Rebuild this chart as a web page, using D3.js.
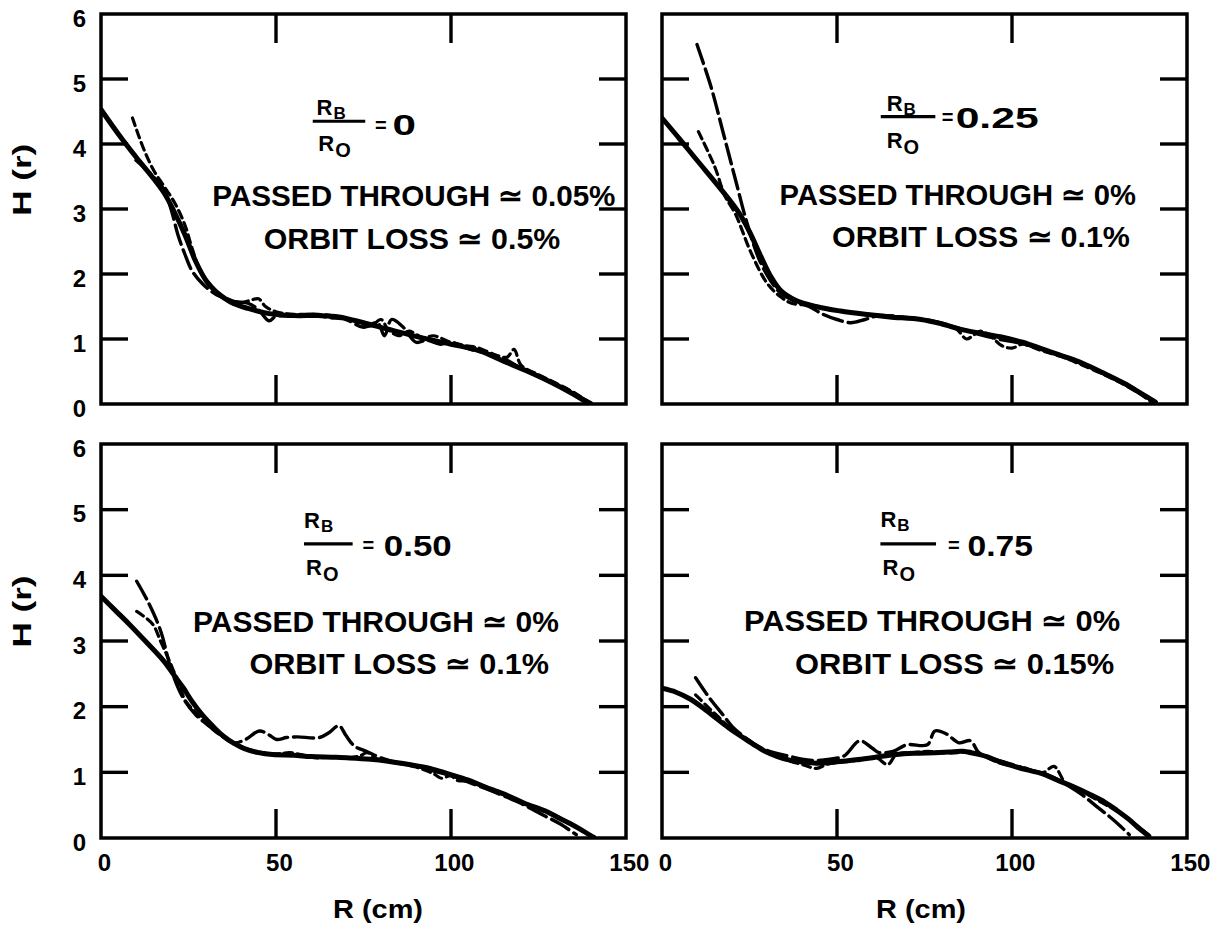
<!DOCTYPE html>
<html>
<head>
<meta charset="utf-8">
<script src="https://cdn.jsdelivr.net/npm/d3@7"></script>
<style>
  html, body { margin: 0; padding: 0; background: #fff; }
  svg { display: block; }
  text { font-family: "Liberation Sans", Arial, sans-serif; font-weight: bold; fill: #000; }
</style>
</head>
<body>
<svg id="chart" width="1222" height="933"></svg>
<script>
// ---------------- DATA ----------------
const yTicks = [0, 1, 2, 3, 4, 5, 6];
const xTicks = [0, 50, 100, 150];
const xLabel = "R (cm)";
const yLabel = "H (r)";

const ratioValues = ["0", "0.25", "0.50", "0.75"];
const passedThrough = ["PASSED THROUGH \u2243 0.05%", "PASSED THROUGH \u2243 0%", "PASSED THROUGH \u2243 0%", "PASSED THROUGH \u2243 0%"];
const orbitLoss = ["ORBIT LOSS \u2243 0.5%", "ORBIT LOSS \u2243 0.1%", "ORBIT LOSS \u2243 0.1%", "ORBIT LOSS \u2243 0.15%"];

// Panel 1: RB/RO = 0
const solid0 = [[0,4.53],[5,4.15],[10,3.8],[15,3.47],[18,3.25],[21,2.95],[24,2.6],[27,2.2],[30,1.9],[33,1.72],[37,1.57],[42,1.47],[48,1.39],[55,1.36],[62,1.36],[68,1.34],[75,1.25],[82,1.15],[90,1.04],[100,0.92],[108,0.82],[115,0.66],[122,0.5],[128,0.35],[134,0.18],[139,0.02]];
const shortDash0 = [[9,4.4],[12,3.95],[15,3.6],[18,3.35],[21,3.1],[24,2.75],[26,2.4],[28,2.1],[31,1.85],[35,1.65],[40,1.56],[43,1.6],[45,1.62],[47,1.5],[50,1.42],[55,1.38],[62,1.38],[68,1.34],[72,1.28],[77,1.2],[80,1.3],[82,1.15],[85,1.05],[88,1.12],[92,1.02],[95,1.05],[100,0.95],[104,0.9],[108,0.86],[112,0.77],[116,0.72],[118,0.84],[120,0.6],[125,0.45],[130,0.32],[136,0.15],[140,0.0]];
const longDash0 = [[10,3.75],[14,3.55],[18,3.3],[20,3.0],[22,2.6],[24,2.3],[26,2.05],[29,1.85],[33,1.68],[38,1.58],[42,1.55],[45,1.45],[48,1.28],[50,1.35],[55,1.35],[60,1.38],[65,1.33],[70,1.3],[75,1.18],[79,1.25],[81,1.05],[83,1.3],[86,1.2],[90,0.95],[93,0.98],[97,0.92],[100,0.95],[105,0.85],[110,0.78],[115,0.7],[120,0.55],[125,0.42],[130,0.3],[135,0.16],[140,0.02]];

// Panel 2: RB/RO = 0.25
const solid25 = [[0,4.4],[5,4.08],[10,3.75],[16,3.36],[22,2.94],[25,2.65],[28,2.3],[31,1.97],[34,1.74],[38,1.6],[44,1.5],[51,1.43],[58,1.38],[65,1.34],[74,1.3],[80,1.23],[86,1.14],[92,1.08],[97,1.03],[103,0.95],[109,0.84],[115,0.73],[120,0.63],[126,0.48],[132,0.32],[137,0.16],[141,0.03]];
const longDash25 = [[10,5.53],[14,4.88],[17.5,4.17],[21,3.45],[24.3,2.78],[27.8,2.22],[31,1.9],[34,1.7],[38,1.58],[42,1.5],[46,1.38],[50,1.3],[54,1.25],[58,1.3],[62,1.36],[70,1.33],[78,1.27],[84,1.18],[90,1.08],[96,1.0],[102,0.94],[108,0.85],[114,0.74],[120,0.62],[126,0.47],[132,0.31],[137,0.15],[141,0.02]];
const shortDash25 = [[10.4,4.19],[15,3.66],[18,3.2],[21,2.92],[25.5,2.32],[30,1.86],[33.6,1.66],[37,1.55],[42,1.52],[47,1.46],[52,1.42],[58,1.38],[66,1.35],[74,1.3],[80,1.24],[84,1.16],[87,1.0],[89,1.06],[91,1.12],[94,1.04],[97,0.9],[100,0.86],[103,0.92],[108,0.83],[114,0.73],[120,0.6],[126,0.46],[132,0.3],[137,0.14],[140,0.02]];

// Panel 3: RB/RO = 0.50
const solid50 = [[0,3.68],[4,3.47],[8,3.26],[13,2.98],[18,2.69],[21,2.47],[23.6,2.28],[26,2.08],[29,1.87],[32,1.7],[35,1.55],[38,1.44],[41,1.36],[45,1.3],[49,1.27],[55,1.26],[60,1.24],[66,1.23],[71,1.22],[77,1.2],[82,1.17],[88,1.12],[94,1.06],[99,0.98],[105,0.88],[110,0.77],[116,0.65],[121,0.53],[127,0.41],[131,0.3],[134,0.22],[137,0.13],[140,0.03]];
const longDash50 = [[10.2,3.91],[13.6,3.58],[17,3.16],[20.2,2.54],[23.6,2.12],[27,1.88],[31,1.7],[35,1.54],[38,1.45],[41.3,1.5],[45.2,1.63],[48,1.57],[50.2,1.5],[53,1.53],[56,1.54],[62.4,1.53],[65,1.6],[68,1.71],[70,1.56],[72.4,1.4],[75.8,1.32],[80,1.22],[85,1.14],[90,1.1],[95,1.02],[100,0.95],[105,0.85],[110,0.75],[116,0.62],[121,0.5],[127,0.33],[131,0.22],[135.8,0.05]];
const shortDash50 = [[10.2,3.45],[14.7,3.26],[17,3.0],[19.1,2.75],[22.4,2.33],[24,2.1],[26.9,1.92],[30,1.75],[34,1.57],[38,1.45],[42,1.35],[46,1.3],[50,1.28],[54,1.3],[58,1.26],[62,1.22],[66,1.24],[70,1.22],[74,1.25],[76,1.3],[79,1.2],[84,1.15],[90,1.08],[95,0.98],[97.3,0.91],[100,0.95],[101.6,0.88],[105,0.86],[110,0.77],[116,0.64],[121,0.52],[126,0.43],[131,0.31],[136,0.16],[141,0.02]];

// Panel 4: RB/RO = 0.75
const solid75 = [[0,2.28],[4,2.22],[7.9,2.12],[12,1.97],[15.8,1.81],[19,1.68],[22.6,1.55],[26,1.43],[29.4,1.32],[33,1.24],[36.2,1.19],[40,1.16],[44.1,1.14],[50,1.16],[55.4,1.19],[61,1.23],[66.7,1.27],[72,1.29],[78,1.3],[82,1.31],[86,1.32],[89,1.29],[92.8,1.24],[96,1.17],[100.7,1.09],[104,1.04],[108.6,0.98],[113,0.88],[117.6,0.78],[122,0.67],[126.7,0.54],[130,0.42],[133.5,0.28],[136,0.16],[139.1,0.03]];
const longDash75 = [[9.6,2.44],[12,2.25],[14,2.1],[17.5,1.87],[20,1.7],[24,1.52],[28,1.38],[32,1.3],[36,1.25],[40,1.2],[44,1.18],[48,1.2],[52,1.25],[56.5,1.48],[60,1.37],[62,1.3],[66,1.32],[70,1.42],[75.8,1.42],[78,1.63],[81.4,1.58],[84.8,1.45],[88.2,1.48],[90.5,1.3],[95,1.2],[100,1.12],[104,1.05],[108,1.0],[112,0.92],[116,0.8],[120,0.66],[124.4,0.47],[128,0.32],[131,0.18],[133.5,0.05]];
const shortDash75 = [[9.6,2.18],[13,2.0],[16,1.85],[20,1.65],[24,1.5],[28,1.36],[32,1.28],[36,1.18],[40,1.12],[44.1,1.06],[47,1.12],[50,1.15],[54,1.17],[58,1.2],[61,1.23],[64.5,1.12],[67,1.27],[72,1.3],[76,1.32],[80,1.3],[85,1.3],[88,1.32],[92,1.25],[96,1.15],[100,1.1],[103,1.08],[106,1.02],[109,1.0],[112,1.09],[115.4,0.83],[119,0.74],[123,0.62],[127,0.5],[131,0.38],[135,0.22],[139.5,0.02]];

const solidSeries = [solid0, solid25, solid50, solid75];
const longDashSeries = [longDash0, longDash25, longDash50, longDash75];
const shortDashSeries = [shortDash0, shortDash25, shortDash50, shortDash75];

// ---------------- LAYOUT ----------------
const panels = [
  {left: 101, right: 626, top: 14, bottom: 404, showY: true,  showX: false,
   frac: {rx: 61.6, ry: 4.57, lx0: 60.5, lx1: 75.5, ly: 4.35, ox: 62.1, oy: 4.02, ex: 78.3, vx: 83.3, vEnd: 90, vy: 4.30},
   pass: {x0: 31.8, x1: 147, y: 3.21}, orbit: {x0: 46.5, x1: 131.2, y: 2.54}},
  {left: 662, right: 1187, top: 14, bottom: 404, showY: false, showX: false,
   frac: {rx: 64.2, ry: 4.63, lx0: 62.5, lx1: 78.1, ly: 4.42, ox: 64.2, oy: 4.06, ex: 79.9, vx: 83.9, vEnd: 107.6, vy: 4.41},
   pass: {x0: 33.6, x1: 135.4, y: 3.22}, orbit: {x0: 48.6, x1: 133.7, y: 2.58}},
  {left: 101, right: 626, top: 444, bottom: 838, showY: true,  showX: true,
   frac: {rx: 58, ry: 4.84, lx0: 58, lx1: 71.9, ly: 4.48, ox: 58.6, oy: 4.12, ex: 74.7, vx: 80.8, vEnd: 100.2, vy: 4.46},
   pass: {x0: 26.3, x1: 130.8, y: 3.29}, orbit: {x0: 42.4, x1: 128, y: 2.66}},
  {left: 662, right: 1187, top: 444, bottom: 838, showY: false, showX: true,
   frac: {rx: 62.4, ry: 4.86, lx0: 62.4, lx1: 78.3, ly: 4.48, ox: 63, oy: 4.12, ex: 81.7, vx: 87.3, vEnd: 106, vy: 4.46},
   pass: {x0: 23.4, x1: 130.9, y: 3.31}, orbit: {x0: 38, x1: 129.2, y: 2.66}}
];

const TICK_Y_LEN = 27, TICK_X_LEN = 29, TICK_W = 3.4;

const svg = d3.select("#chart");
svg.append("rect").attr("width", 1222).attr("height", 933).attr("fill", "#fff");
const defs = svg.append("defs");

panels.forEach((p, i) => {
  const x = d3.scaleLinear().domain([0, 150]).range([p.left, p.right]);
  const y = d3.scaleLinear().domain([0, 6]).range([p.bottom, p.top]);
  const g = svg.append("g");

  // Tick labels
  if (p.showY) {
    const lab = g.append("g").attr("transform", `translate(${p.left},0)`)
      .call(d3.axisLeft(y).tickValues(yTicks).tickSize(0).tickPadding(15).tickFormat(d3.format("d")));
    lab.select(".domain").remove();
    lab.selectAll("text").attr("font-size", 24).attr("font-family", "Liberation Sans, Arial, sans-serif")
      .attr("font-weight", "bold").attr("fill", "#000").attr("dy", "0.5em");
    g.append("text")
      .attr("transform", `translate(31,${y(3.45)}) rotate(-90)`)
      .attr("text-anchor", "middle").attr("font-size", 25)
      .attr("textLength", 72).attr("lengthAdjust", "spacingAndGlyphs")
      .text(yLabel);
  }
  if (p.showX) {
    const lab = g.append("g").attr("transform", `translate(0,${p.bottom})`)
      .call(d3.axisBottom(x).tickValues(xTicks).tickSize(0).tickPadding(16).tickFormat(d3.format("d")));
    lab.select(".domain").remove();
    lab.selectAll("text").attr("font-size", 24).attr("font-family", "Liberation Sans, Arial, sans-serif")
      .attr("font-weight", "bold").attr("fill", "#000").attr("dx", "0.12em");
    g.append("text")
      .attr("x", i === 2 ? 378 : 921).attr("y", 918)
      .attr("text-anchor", "middle").attr("font-size", 25)
      .attr("textLength", 90).attr("lengthAdjust", "spacingAndGlyphs")
      .text(xLabel);
  }

  // Curves
  const line = d3.line().x(d => x(d[0])).y(d => y(d[1])).curve(d3.curveCatmullRom.alpha(0.5));
  const clipId = "clip" + i;
  defs.append("clipPath").attr("id", clipId).append("rect")
    .attr("x", p.left).attr("y", p.top).attr("width", p.right - p.left).attr("height", p.bottom - p.top);
  const cg = g.append("g").attr("clip-path", `url(#${clipId})`);
  cg.append("path").datum(shortDashSeries[i]).attr("d", line)
    .attr("fill", "none").attr("stroke", "#000").attr("stroke-width", 3.2)
    .attr("stroke-dasharray", "8,5").attr("stroke-linecap", "round");
  cg.append("path").datum(longDashSeries[i]).attr("d", line)
    .attr("fill", "none").attr("stroke", "#000").attr("stroke-width", 3.4)
    .attr("stroke-dasharray", "20,6").attr("stroke-linecap", "round");
  cg.append("path").datum(solidSeries[i]).attr("d", line)
    .attr("fill", "none").attr("stroke", "#000").attr("stroke-width", 5)
    .attr("stroke-linejoin", "round").attr("stroke-linecap", "round");

  // Frame
  g.append("rect").attr("x", p.left).attr("y", p.top)
    .attr("width", p.right - p.left).attr("height", p.bottom - p.top)
    .attr("fill", "none").attr("stroke", "#000").attr("stroke-width", 3.5);

  // Inner tick marks on all four sides, positioned via the scales
  const innerY = yTicks.slice(1, -1);
  const innerX = xTicks.slice(1, -1);
  const tg = g.append("g").attr("class", "inner-ticks");
  tg.selectAll("rect.ytl").data(innerY).enter().append("rect").attr("class", "ytl")
    .attr("x", p.left).attr("y", d => y(d) - TICK_W / 2).attr("width", TICK_Y_LEN).attr("height", TICK_W)
    .attr("fill", "#000");
  tg.selectAll("rect.ytr").data(innerY).enter().append("rect").attr("class", "ytr")
    .attr("x", p.right - TICK_Y_LEN).attr("y", d => y(d) - TICK_W / 2).attr("width", TICK_Y_LEN).attr("height", TICK_W)
    .attr("fill", "#000");
  tg.selectAll("rect.xtt").data(innerX).enter().append("rect").attr("class", "xtt")
    .attr("x", d => x(d) - TICK_W / 2).attr("y", p.top).attr("width", TICK_W).attr("height", TICK_X_LEN)
    .attr("fill", "#000");
  tg.selectAll("rect.xtb").data(innerX).enter().append("rect").attr("class", "xtb")
    .attr("x", d => x(d) - TICK_W / 2).attr("y", p.bottom - TICK_X_LEN).attr("width", TICK_W).attr("height", TICK_X_LEN)
    .attr("fill", "#000");

  // Annotation: fraction
  const f = p.frac;
  const t1 = g.append("text").attr("x", x(f.rx)).attr("y", y(f.ry)).attr("dominant-baseline", "central")
    .attr("font-size", 22);
  t1.append("tspan").text("R");
  t1.append("tspan").attr("font-size", 17).attr("dy", 6).attr("dx", 1).text("B");
  g.append("line").attr("x1", x(f.lx0)).attr("x2", x(f.lx1)).attr("y1", y(f.ly)).attr("y2", y(f.ly))
    .attr("stroke", "#000").attr("stroke-width", 3.2);
  const t2 = g.append("text").attr("x", x(f.ox)).attr("y", y(f.oy)).attr("dominant-baseline", "central")
    .attr("font-size", 22);
  t2.append("tspan").text("R");
  t2.append("tspan").attr("font-size", 20).attr("dy", 7).attr("dx", 1).text("O");
  g.append("text").attr("x", x(f.ex)).attr("y", y(f.vy)).attr("dominant-baseline", "central")
    .attr("font-size", 20).text("=");
  g.append("text").attr("x", x(f.vx)).attr("y", y(f.vy)).attr("dominant-baseline", "central")
    .attr("font-size", 30).attr("textLength", x(f.vEnd) - x(f.vx)).attr("lengthAdjust", "spacingAndGlyphs")
    .text(ratioValues[i]);

  // Annotation: passed through / orbit loss
  g.append("text").attr("x", x(p.pass.x0)).attr("y", y(p.pass.y)).attr("dominant-baseline", "central")
    .attr("font-size", 30).attr("textLength", x(p.pass.x1) - x(p.pass.x0)).attr("lengthAdjust", "spacingAndGlyphs")
    .text(passedThrough[i]);
  g.append("text").attr("x", x(p.orbit.x0)).attr("y", y(p.orbit.y)).attr("dominant-baseline", "central")
    .attr("font-size", 30).attr("textLength", x(p.orbit.x1) - x(p.orbit.x0)).attr("lengthAdjust", "spacingAndGlyphs")
    .text(orbitLoss[i]);
});
</script>
</body>
</html>
